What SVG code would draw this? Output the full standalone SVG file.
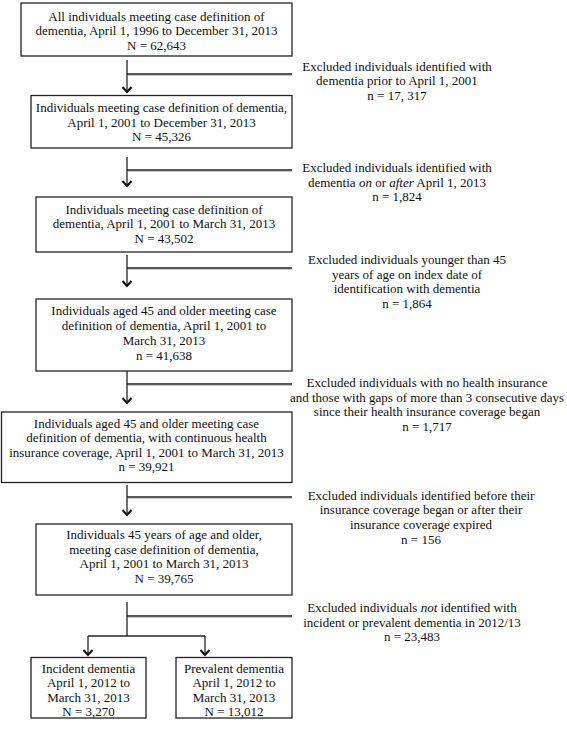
<svg xmlns="http://www.w3.org/2000/svg" width="567" height="732" viewBox="0 0 567 732">
<defs>
<style>
text{font-family:"Liberation Serif","Times New Roman",serif;font-size:13px;fill:#111;text-anchor:middle}
.box{fill:#fff;stroke:#222;stroke-width:1.3}
.ln{fill:none;stroke:#222;stroke-width:1.3}
.sh{fill:none;stroke:#c8c8c8;stroke-width:1}
.arr{fill:none;stroke:#222;stroke-width:1.3;marker-end:url(#ah)}
.i{font-style:italic}
</style>
<marker id="ah" markerUnits="userSpaceOnUse" orient="auto" refX="0" refY="0" markerWidth="10" markerHeight="10" overflow="visible">
<path d="M-5,-4.5 L0,0 L-5,4.5" fill="none" stroke="#111" stroke-width="2"/>
</marker>
</defs>
<rect width="567" height="732" fill="#fff"/>

<g id="connectors">
<path class="arr" d="M127,60 V92"/>
<path class="sh" d="M128,75.5 H292"/>
<path class="ln" d="M127,74 H292"/>

<path class="arr" d="M127,157 V186"/>
<path class="sh" d="M128,171.5 H292"/>
<path class="ln" d="M127,170 H292"/>

<path class="arr" d="M127,255 V286"/>
<path class="sh" d="M128,269.5 H292"/>
<path class="ln" d="M127,268 H292"/>

<path class="arr" d="M127,371 V403"/>
<path class="sh" d="M128,385.5 H292"/>
<path class="ln" d="M127,384 H292"/>

<path class="arr" d="M127,485 V515"/>
<path class="sh" d="M128,498.5 H292"/>
<path class="ln" d="M127,497 H292"/>

<path class="ln" d="M127,602 V636"/>
<path class="sh" d="M128,617.5 H292"/>
<path class="ln" d="M127,616 H292"/>
<path class="ln" d="M88,636 H205"/>
<path class="arr" d="M88,636 V655"/>
<path class="arr" d="M205,636 V655"/>
</g>

<g id="box1">
<rect class="box" x="21" y="3" width="271" height="53"/>
<text x="156.5" y="20.5">All individuals meeting case definition of</text>
<text x="156.5" y="35">dementia, April 1, 1996 to December 31, 2013</text>
<text x="156.5" y="49.5">N = 62,643</text>
</g>

<g id="box2">
<rect class="box" x="31" y="95.5" width="261" height="52.5"/>
<text x="161.5" y="112">Individuals meeting case definition of dementia,</text>
<text x="161.5" y="126.5">April 1, 2001 to December 31, 2013</text>
<text x="161.5" y="141">N = 45,326</text>
</g>

<g id="box3">
<rect class="box" x="36" y="197" width="256" height="55"/>
<text x="164" y="213.5">Individuals meeting case definition of</text>
<text x="164" y="228">dementia, April 1, 2001 to March 31, 2013</text>
<text x="164" y="242.5">N = 43,502</text>
</g>

<g id="box4">
<rect class="box" x="36" y="299" width="256" height="72"/>
<text x="164" y="315">Individuals aged 45 and older meeting case</text>
<text x="164" y="330">definition of dementia, April 1, 2001 to</text>
<text x="164" y="345">March 31, 2013</text>
<text x="164" y="359.5">n = 41,638</text>
</g>

<g id="box5">
<rect class="box" x="1.5" y="412" width="290.5" height="70.5"/>
<text x="146.5" y="427.5">Individuals aged 45 and older meeting case</text>
<text x="146.5" y="442">definition of dementia, with continuous health</text>
<text x="146.5" y="456.5">insurance coverage, April 1, 2001 to March 31, 2013</text>
<text x="146.5" y="471">n = 39,921</text>
</g>

<g id="box6">
<rect class="box" x="36" y="524" width="256" height="71"/>
<text x="164" y="539">Individuals 45 years of age and older,</text>
<text x="164" y="553.5">meeting case definition of dementia,</text>
<text x="164" y="568">April 1, 2001 to March 31, 2013</text>
<text x="164" y="583">N = 39,765</text>
</g>

<g id="box7">
<rect class="box" x="31" y="657.5" width="115" height="60.5"/>
<text x="88.5" y="672.5">Incident dementia</text>
<text x="88.5" y="687">April 1, 2012 to</text>
<text x="88.5" y="701.5">March 31, 2013</text>
<text x="88.5" y="716">N = 3,270</text>
</g>

<g id="box8">
<rect class="box" x="176" y="657.5" width="116" height="60.5"/>
<text x="234" y="672.5">Prevalent dementia</text>
<text x="234" y="687">April 1, 2012 to</text>
<text x="234" y="701.5">March 31, 2013</text>
<text x="234" y="716">N = 13,012</text>
</g>

<g id="excl1">
<text x="397" y="70.5">Excluded individuals identified with</text>
<text x="397" y="85">dementia prior to April 1, 2001</text>
<text x="397" y="99.5">n = 17, 317</text>
</g>

<g id="excl2">
<text x="397" y="171.5">Excluded individuals identified with</text>
<text x="397" y="186.5">dementia <tspan class="i">on</tspan> or <tspan class="i">after</tspan> April 1, 2013</text>
<text x="397" y="201">n = 1,824</text>
</g>

<g id="excl3">
<text x="407" y="264">Excluded individuals younger than 45</text>
<text x="407" y="278.5">years of age on index date of</text>
<text x="407" y="293">identification with dementia</text>
<text x="407" y="307.5">n = 1,864</text>
</g>

<g id="excl4">
<text x="427" y="387">Excluded individuals with no health insurance</text>
<text x="427" y="401.5">and those with gaps of more than 3 consecutive days</text>
<text x="427" y="416">since their health insurance coverage began</text>
<text x="427" y="430.5">n = 1,717</text>
</g>

<g id="excl5">
<text x="421" y="499.5">Excluded individuals identified before their</text>
<text x="421" y="514">insurance coverage began or after their</text>
<text x="421" y="528.5">insurance coverage expired</text>
<text x="421" y="543.5">n = 156</text>
</g>

<g id="excl6">
<text x="412" y="611.5">Excluded individuals <tspan class="i">not</tspan> identified with</text>
<text x="412" y="626.5">incident or prevalent dementia in 2012/13</text>
<text x="412" y="641">n = 23,483</text>
</g>
</svg>
